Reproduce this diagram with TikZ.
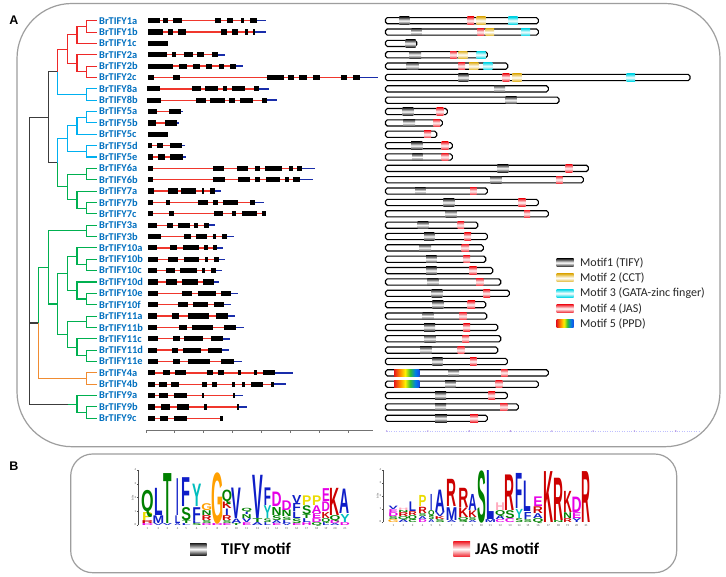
\documentclass[tikz,border=0pt]{standalone}
\usepackage{fontspec}
\setmainfont{Carlito}
\newfontfamily\logofont{Liberation Sans}
\newfontfamily\arialfont{Liberation Sans}

\definecolor{clred}{RGB}{238,40,40}
\definecolor{clblue}{RGB}{0,176,240}
\definecolor{clgreen}{RGB}{0,176,80}
\definecolor{clorange}{RGB}{240,140,50}
\definecolor{cltrunk}{RGB}{60,60,60}
\definecolor{genename}{RGB}{0,112,192}
\definecolor{intronred}{RGB}{240,55,45}
\definecolor{utrblue}{RGB}{25,45,170}
\definecolor{cctgold}{RGB}{225,180,40}
\definecolor{gatacyan}{RGB}{0,215,230}
\definecolor{jasred}{RGB}{240,40,50}
\definecolor{lg}{RGB}{0,128,0}
\definecolor{lb}{RGB}{15,30,200}
\definecolor{lc}{RGB}{0,190,190}
\definecolor{lo}{RGB}{255,160,0}
\definecolor{ly}{RGB}{235,220,0}
\definecolor{lm}{RGB}{230,0,230}
\definecolor{lr}{RGB}{205,0,0}
\definecolor{lp}{RGB}{255,170,190}

\pgfdeclarehorizontalshading{ppdbar}{100bp}{rgb(0bp)=(0.9,0.1,0.1); rgb(25bp)=(0.9,0.1,0.1); rgb(37bp)=(1,0.55,0); rgb(47bp)=(1,0.95,0); rgb(57bp)=(0.2,0.75,0.2); rgb(67bp)=(0,0.5,0.9); rgb(75bp)=(0.1,0.3,0.9); rgb(100bp)=(0.1,0.3,0.9)}

\begin{document}
\begin{tikzpicture}
  [x=1pt,y=-1pt,
   panel/.style={draw=black!38,line width=1.2pt},
   tree/.style={line width=1.1pt},
   gname/.style={anchor=west,inner sep=2.5pt,text=genename,font=\fontsize{10.4}{11}\selectfont\bfseries},
   exon/.style={fill=black},
   intronline/.style={draw=intronred,line width=1.3pt},
   utrline/.style={draw=utrblue,line width=1.5pt},
   protein/.style={draw=black,fill=white,line width=1.1pt,rounded corners=1.8pt},
   tify/.style={top color=black!85,bottom color=black!85,middle color=white},
   cct/.style={top color=cctgold,bottom color=cctgold,middle color=white},
   gata/.style={top color=gatacyan,bottom color=gatacyan,middle color=white},
   jas/.style={top color=jasred,bottom color=jasred,middle color=white},
   ppd/.style={shading=ppdbar},
   legtext/.style={anchor=west,inner sep=0pt,text=black!85,font=\fontsize{12}{13}\selectfont},
   keytext/.style={anchor=west,inner sep=0pt,font=\fontsize{16.5}{17}\selectfont\bfseries},
   panellabel/.style={inner sep=0pt,font=\arialfont\fontsize{12.5}{13}\selectfont\bfseries},
   logoletter/.style={anchor=base,inner sep=0pt,font=\logofont\bfseries\fontsize{10}{12}\selectfont},
   logotick/.style={inner sep=0.3pt,text=black!70,font=\fontsize{3}{3}\selectfont}]
  \useasboundingbox (0,0) rectangle (726,577);
  \fill[white] (0,0) rectangle (726,577);

  % panels
  \draw[panel,rounded corners=55pt] (17,3.5) rectangle (720,446.7);
  \draw[panel,rounded corners=22pt] (70.7,454) rectangle (676.7,572.7);
  \node[panellabel] (lblA) at (14,20.5) {A};
  \node[panellabel] (lblB) at (14,466) {B};

  % gene names
  \foreach \g [count=\i from 0] in {1a,1b,1c,2a,2b,2c,8a,8b,5a,5b,5c,5d,5e,6a,6b,7a,7b,7c,3a,3b,
      10a,10b,10c,10d,10e,10f,11a,11b,11c,11d,11e,4a,4b,9a,9b,9c}
    \node[gname] (t\g) at (96.5,{20.7+11.36*\i}) {BrTIFY\g};

  % tree
  \coordinate (root) at (29.3,260.7);
  \coordinate (nA) at (48.3,117.26);
  \coordinate (nA1) at (57.7,71.82);
  \coordinate (n12) at (67.7,49.1);
  \coordinate (n1abc) at (77,34.9);
  \coordinate (n1ab) at (86.7,26.38);
  \coordinate (n2) at (77,63.3);
  \coordinate (n2bc) at (86.7,71.82);
  \coordinate (n8) at (86.7,94.54);
  \coordinate (nA2) at (57.7,162.7);
  \coordinate (n5) at (67.7,138.56);
  \coordinate (n5abc) at (77,125.78);
  \coordinate (n5ab) at (86.7,117.26);
  \coordinate (n5de) at (86.7,151.34);
  \coordinate (n67) at (67.7,186.84);
  \coordinate (n6) at (86.7,174.06);
  \coordinate (n7) at (77,199.62);
  \coordinate (n7bc) at (86.7,208.14);
  \coordinate (nB) at (38.3,322.99);
  \coordinate (nG) at (48.3,267.43);
  \coordinate (n3) at (86.7,230.86);
  \coordinate (n1011) at (57.7,303.99);
  \coordinate (n10) at (67.7,273.46);
  \coordinate (n10abc) at (77,256.42);
  \coordinate (n10bc) at (86.7,264.94);
  \coordinate (n10def) at (77,290.5);
  \coordinate (n10ef) at (86.7,299.02);
  \coordinate (n11) at (67.7,334.52);
  \coordinate (n11ab) at (86.7,321.74);
  \coordinate (n11cde) at (77,347.3);
  \coordinate (n11de) at (86.7,355.82);
  \coordinate (n4) at (86.7,378.54);
  \coordinate (k9) at (68,404.1);
  \coordinate (n9) at (77,404.1);
  \coordinate (n9bc) at (86.7,412.62);

  \foreach \from/\to/\c in {root/nA/cltrunk, root/nB/cltrunk, root/k9/cltrunk, nA/nA1/cltrunk, nA/nA2/cltrunk,
      nA1/n12/clred, n12/n1abc/clred, n12/n2/clred, n1abc/n1ab/clred, n1abc/t1c.west/clred,
      n1ab/t1a.west/clred, n1ab/t1b.west/clred, n2/t2a.west/clred, n2/n2bc/clred,
      n2bc/t2b.west/clred, n2bc/t2c.west/clred,
      nA1/n8/clblue, n8/t8a.west/clblue, n8/t8b.west/clblue,
      nA2/n5/clblue, n5/n5abc/clblue, n5/n5de/clblue, n5abc/n5ab/clblue, n5abc/t5c.west/clblue,
      n5ab/t5a.west/clblue, n5ab/t5b.west/clblue, n5de/t5d.west/clblue, n5de/t5e.west/clblue,
      nA2/n67/clgreen, n67/n6/clgreen, n67/n7/clgreen, n6/t6a.west/clgreen, n6/t6b.west/clgreen,
      n7/t7a.west/clgreen, n7/n7bc/clgreen, n7bc/t7b.west/clgreen, n7bc/t7c.west/clgreen,
      nB/nG/clgreen, nG/n3/clgreen, n3/t3a.west/clgreen, n3/t3b.west/clgreen, nG/n1011/clgreen,
      n1011/n10/clgreen, n1011/n11/clgreen, n10/n10abc/clgreen, n10/n10def/clgreen,
      n10abc/t10a.west/clgreen, n10abc/n10bc/clgreen, n10bc/t10b.west/clgreen, n10bc/t10c.west/clgreen,
      n10def/t10d.west/clgreen, n10def/n10ef/clgreen, n10ef/t10e.west/clgreen, n10ef/t10f.west/clgreen,
      n11/n11ab/clgreen, n11/n11cde/clgreen, n11ab/t11a.west/clgreen, n11ab/t11b.west/clgreen,
      n11cde/t11c.west/clgreen, n11cde/n11de/clgreen, n11de/t11d.west/clgreen, n11de/t11e.west/clgreen,
      nB/n4/clorange, n4/t4a.west/clorange, n4/t4b.west/clorange,
      k9/n9/clgreen, n9/t9a.west/clgreen, n9/n9bc/clgreen, n9bc/t9b.west/clgreen, n9bc/t9c.west/clgreen}
    \draw[tree,\c] (\from) |- (\to);

  % gene structures: last exon end / UTR end / exons
  \foreach \e/\u/\ex [count=\i from 0] in {
      256.7/266/{148.3/160,163.3/168.3,173.3/181.7,215/220.7,226.7/232.7,241/244.3,250/256.7},
      255.3/265.7/{148.3/163.3,168.3/172.7,178.3/186,221/227.3,232.3/238.3,245/248.3,253.3/255.3},
      168.3/168.3/{148.3/168.3},
      218.3/225/{148.3/166.7,171.7/176,184.3/192.7,196.7/204,211.7/218.3},
      236/243.3/{148.3/173.3,179.3/186.7,192.7/200,206/212.3,219.3/224,230/236},
      360/377.7/{148.3/154,172.7/180,267.3/284,288.3/294,299.3/306.7,312.7/320,341.3/347.3,353.3/360},
      259.3/269.3/{147.3/160,191.7/200.7,205/218.3,222.7/227.3,231.7/245,254/259.3},
      267.3/277.3/{147.3/161,195.7/205.7,210/225,229.3/235,240/252.7,262/267.3},
      180.7/183.3/{148.3/156.7,169.3/180.7},
      176.7/179/{148.3/156,165/176.7},
      168.3/168.3/{148.3/168.3},
      181.7/185/{147.7/151.7,157.3/163.3,170/181.7},
      182.7/185.7/{148.3/152.7,158.3/165,170/182.7},
      302.3/315.3/{147.7/152.7,212.7/224.3,236.7/248.3,255/260,265/282,288.7/292.7,296.7/302.3},
      300/312.7/{147.7/152.7,212.7/225,237.7/250,255/260,266/280,285/288.7,293.3/300},
      215/220.7/{148.3/154.3,168.3/177.7,181/196,201.7/204,210/215},
      255/264/{147.7/152.7,166/170,197.7/207.7,213.3/218.3,222.7/237.7,250/255},
      266/266/{147.7/152.7,169.3/174,214.3/222.7,231.7/236,241.7/256.7,261.7/266},
      209.3/215/{148.3/156.7,167.3/173.3,178.3/190,194.3/197.7,204/209.3},
      227.3/234/{148.3/160.7,184/190.7,196/207.3,212.7/216,221.7/227.3},
      216.7/222.7/{147.7/156.7,170/176.7,182.7/199.3,204.3/207.7,213.3/216.7},
      219.3/225/{148.3/158.3,168.3/178.3,184/199.3,205/208.3,214/219.3},
      216/221.7/{148.3/156.7,166/175,180/196.7,201.7/205,211/216},
      214/219.3/{147.7/157.7,166/176.7,181.7/198.3,203.3/214},
      231/238.3/{148.3/158.3,181.7/192.3,197.7/215.7,221/231},
      224.3/230.7/{148.3/157.7,177.7/188.3,193.3/208.3,214.3/224.3},
      228.3/235.3/{147.7/156.7,171.7/179,188.3/209,216/228.3},
      236/243.7/{148.3/156.7,179.3/187.3,192.3/212.7,224/236},
      223.3/230/{147.7/157.7,173.3/180,184/202.7,210.7/223.3},
      221.7/228.7/{148.3/156.7,171.7/177.7,183.3/200.7,208.3/221.7},
      234.3/242.3/{148.3/158.3,173.3/180,188.3/210,220.7/234.3},
      275/292.7/{148.3/155,162.7/170,175/185.7,207.3/213.3,218.3/224,237.7/241,254/257.3,263.3/275},
      274/285.7/{148.3/155,159.3/166.7,170.7/179.3,202/207.3,212/217.3,231.7/235,241.7/245,250.7/262.7,271/274},
      235/242.7/{147.7/155,159.3/168.3,174.3/186.7,201.7/204.3,232.7/235},
      239.3/247.3/{148.3/155,161/170,176.7/189.3,204/206.7,236.7/239.3},
      223.3/223.3/{148.3/155,160/168.3,174.3/187.3,220/223.3}}
  {
    \pgfmathsetmacro\yy{20.7+11.36*\i}
    \draw[utrline] (\e,\yy) -- (\u,\yy);
    \draw[intronline] (148,\yy) -- (\e,\yy);
    \foreach \a/\b in \ex
      \fill[exon] (\a,\yy-2.6) rectangle (\b,\yy+2.6);
  }

  % scale bars
  \draw[black!55,line width=0.5pt] (145.8,430.7) -- (372.7,430.7);
  \foreach \s in {0,...,7}
    \draw[black!55,line width=0.5pt] (145.8+28.9*\s,430.7) -- ++(0,1.8);
  \draw[blue!25,line width=0.4pt,dotted] (386.6,431) -- (700,431);
  \foreach \s in {0,...,7}
    \fill[blue!45!violet!45] (386.6+41.3*\s,431) circle (0.8);

  % motif structures: protein end / motifs
  \foreach \pe/\ml [count=\i from 0] in {
      538.3/{tify/399.3/409.3, jas/467.3/474, cct/476.7/485.7, gata/508.3/517.7},
      538.3/{tify/411.7/421.7, jas/477.3/484, cct/485.7/494, gata/521/530},
      416.7/{tify/405.7/415.7},
      487.3/{tify/409.3/421, jas/450/456.7, cct/458.3/467.3, gata/476.7/485.7},
      507.7/{tify/406.7/418.3, jas/458.3/465, cct/469/478.3, gata/483.3/492.3},
      690/{tify/458.3/468.3, jas/502.7/509.3, cct/512.3/521.7, gata/626.7/635},
      548.3/{tify/494/505},
      559/{tify/505.7/516.7},
      447.3/{tify/402.7/413.3, jas/436.7/443.3},
      442.3/{tify/403.3/415, jas/433.3/440},
      436.7/{jas/424/431},
      452.3/{tify/411/422.3, jas/441.7/448.3},
      452.3/{tify/412.3/422.7, jas/441.7/448.3},
      588.3/{tify/497.3/508.3, jas/565.7/572.3},
      583.3/{tify/490.7/501.7, jas/556/562.7},
      487.3/{tify/415/425.7, jas/470/476.7},
      538.3/{tify/443.3/454.3, jas/518.3/525.7},
      548.3/{tify/445.7/456.7, jas/524/530},
      477.7/{tify/417.7/428.3, jas/457.7/464},
      487.3/{tify/424/434.3, jas/464.3/471},
      483.3/{tify/419.3/431, jas/461.7/469},
      485.7/{tify/426/436.7, jas/463.3/470},
      492.7/{tify/426/436.7, jas/469.3/476.7},
      500.7/{tify/427.3/438.3, jas/476/483.3},
      509.3/{tify/431.7/442.3, jas/483.3/490},
      485.7/{tify/432.3/443.3, jas/467.7/475},
      486.7/{tify/422.7/433.3, jas/459.3/466.7},
      497.7/{tify/424/435, jas/463.3/470},
      500.7/{tify/424.3/435.7, jas/462.3/469},
      497.7/{tify/420/431.7, jas/457.7/464.3},
      507.3/{tify/432.3/442.7, jas/470/476.7},
      548.3/{ppd/394/419.3, tify/448.3/459, jas/501/507.7},
      538.3/{ppd/394/419.3, tify/445/455.7, jas/495.7/502.3},
      507.3/{tify/435/446, jas/488.3/495},
      518.3/{tify/435/446, jas/500/507.3},
      487.3/{tify/435/446.8, jas/470/478}}
  {
    \pgfmathsetmacro\yy{20.7+11.36*\i}
    \draw[protein] (385.5,\yy-3.1) rectangle (\pe,\yy+3.1);
    \foreach \t/\a/\b in \ml
      \shade[\t] (\a,\yy-3.7) rectangle (\b,\yy+3.7);
  }

  % legend
  \foreach \t/\txt [count=\i from 0] in {tify/Motif1 (TIFY), cct/Motif 2 (CCT),
      gata/Motif 3 (GATA-zinc finger), jas/Motif 4 (JAS), ppd/Motif 5 (PPD)}
  {
    \shade[\t] (556.5,{262.7+15.3*\i-4}) rectangle (573.5,{262.7+15.3*\i+4});
    \node[legtext] (leg\i) at (580,{262.7+15.3*\i}) {\txt};
  }

  % TIFY logo
  \draw[black!70,line width=0.4pt] (138.3,525) -- (138.3,470);
  \foreach \v in {0,...,4}
  {
    \draw[black!70,line width=0.4pt] (136.8,525-13.75*\v) -- (138.3,525-13.75*\v);
    \node[logotick,anchor=east] (ya\v) at (136.6,525-13.75*\v) {\v};
  }
  \node[logotick,rotate=90] (ybitsa) at (132.5,498) {bits};
  \foreach \x/\w/\stack [count=\k] in {
      141.7/11.6/{lm/2/D, lr/3/R, ly/8.3/P, lg/21.7/Q},
      153.3/10/{lb/2/V, lb/8/M, lb/28.3/L},
      162.5/10/{lb/2/V, lg/52/T},
      174.5/6.5/{lb/2/A, lb/8/L, lb/38.3/I},
      181/10.5/{lb/2/L, lg/3/T, lg/13.3/S, lb/30/F},
      191.7/10/{lg/2/S, lb/3/L, lb/13.3/F, lc/23.3/Y},
      201.7/10/{lm/2/D, lg/3/S, lr/5/R, lg/5/N, lo/7/G},
      211.7/11.3/{lm/2/D, lo/52/G},
      222.2/9.5/{lm/2/E, lg/3/S, lr/5/R, lb/6.7/I, lr/6.7/K, lg/11.7/Q},
      231.2/10.5/{lg/2/T, lb/4.6/A, lb/31.7/V},
      241.7/10/{lm/3/E, lb/4/V, lg/4/N, lb/2.5/I, lg/3.3/Q},
      251.7/11.6/{lb/3/A, lg/4/T, lb/45/V},
      263.3/8.4/{lb/3/L, lg/3.7/S, lc/13.3/Y, lb/18.3/F},
      271.7/10/{lm/2/E, lb/3/A, lg/5/S, lg/8.3/N, lm/15/D},
      281.7/10/{lb/2/V, lb/3/L, lg/3.3/S, lg/6.7/N, lm/10/D},
      291.7/10/{lm/2/E, lg/4.7/S, lb/6.6/L, lb/8.4/F, lb/8.3/V},
      301.7/10/{lm/3/H, lb/4/L, lg/4/T, lg/9/S, ly/10/P},
      311.7/10/{lg/3/Q, lm/4/D, lm/5/E, lm/8/A, ly/10/P},
      321.7/8.3/{lb/3/L, lg/4/Q, lr/6.3/K, lm/10/D, lm/13.4/E},
      330/10/{lb/2/A, lm/3/D, lg/5/Q, lr/28.3/K},
      340/10/{lm/3/D, lc/8.3/Y, lb/25.4/A}}
  {
    \xdef\yb{525}
    \foreach \c/\h/\ch in \stack
    {
      \node[logoletter,text=\c,xscale=\w/7.2,yscale=\h/7.16] (tify\k\ch) at ({\x+\w/2},\yb) {\ch};
      \pgfmathsetmacro\yn{\yb-\h}
      \xdef\yb{\yn}
    }
    \node[logotick] (pa\k) at ({\x+\w/2},528.5) {\k};
  }

  % JAS logo
  \draw[black!70,line width=0.4pt] (383.3,522) -- (383.3,470);
  \foreach \v in {0,...,4}
  {
    \draw[black!70,line width=0.4pt] (381.8,522-13*\v) -- (383.3,522-13*\v);
    \node[logotick,anchor=east] (yb\v) at (381.6,522-13*\v) {\v};
  }
  \node[logotick,rotate=90] (ybitsb) at (377.5,496) {bits};
  \foreach \x/\w/\stack [count=\k] in {
      388.3/10/{lo/3/G, lg/3/S, lm/4/D, lm/3/E, lb/3.5/V},
      398.3/10/{lb/3/A, lg/3/Q, lr/4/R, lg/2/N, lp/2.5/H},
      408.3/8.5/{lg/3/C, lg/4/Q, lr/4/R, lb/10/L},
      418.3/8.5/{lm/3/D, lb/3/A, lg/3/S, lr/6.5/R, ly/11.5/P},
      428.3/6/{lb/3/A, lg/4/S, lg/5/Q, lb/16.7/I},
      435/10/{lg/3/S, lr/3/K, lb/4/V, lb/23.3/A},
      446.7/10/{lb/2/A, lb/13.3/M, lr/28.3/R},
      458.3/10/{lg/2/S, lg/3/Q, lr/10/K, lr/20/R},
      468.3/8.4/{lb/2/A, lg/3/S, lr/7/K, lb/16.7/A},
      476.7/9.5/{lg/53/S},
      485.5/9.5/{lb/3/M, lb/51/L},
      495.5/9.5/{lm/3/C, lb/4/A, lg/5/Q, lp/8/H},
      505/10/{lm/4/C, lg/8/S, lr/37/R},
      515/8.3/{lg/4/S, lc/9.5/Y, lb/36.5/F},
      523.3/9/{lg/3/S, lb/7.3/F, lb/31.7/L},
      533/10/{lg/4/Q, lb/5/A, lr/7/R, lm/10/E},
      543.3/10/{lr/53/K},
      553.3/10/{lg/2/N, lr/44/R},
      563.3/8.5/{lr/4/R, lg/6/N, lr/22/K},
      571.7/10/{lb/4/Y, lm/6/E, lm/16/D},
      581.7/9/{lr/53/R}}
  {
    \xdef\yb{522}
    \foreach \c/\h/\ch in \stack
    {
      \node[logoletter,text=\c,xscale=\w/7.2,yscale=\h/7.16] (jas\k\ch) at ({\x+\w/2},\yb) {\ch};
      \pgfmathsetmacro\yn{\yb-\h}
      \xdef\yb{\yn}
    }
    \node[logotick] (pb\k) at ({\x+\w/2},525.5) {\k};
  }

  % motif keys of panel B
  \shade[tify] (190,543.3) rectangle (206.7,555);
  \node[keytext] (tifykey) at (221,549) {TIFY motif};
  \shade[jas] (453.3,541.7) rectangle (470,556.5);
  \node[keytext] (jaskey) at (475,549) {JAS motif};
\end{tikzpicture}
\end{document}
